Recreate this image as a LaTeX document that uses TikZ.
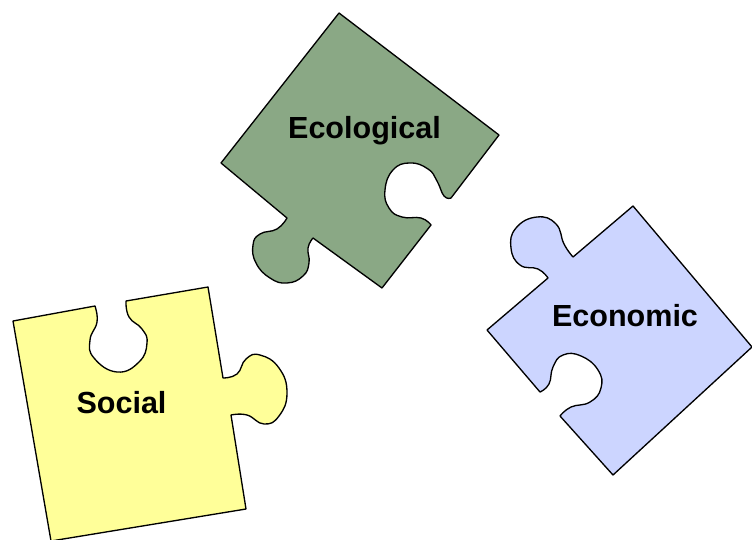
\documentclass[tikz,border=0pt]{standalone}
\usepackage{fontspec}
\setmainfont{Liberation Sans}
\definecolor{ecogreen}{HTML}{8AA885}
\definecolor{socyellow}{HTML}{FFFF99}
\definecolor{econblue}{HTML}{CCD5FF}
\tikzset{
	piece/.style={draw=black,line width=1pt,line join=round},
	word/.style={anchor=base,font=\fontsize{22.9}{27}\selectfont\bfseries,inner sep=0pt}
}
\begin{document}
\begin{tikzpicture}[x=.75pt,y=-.75pt]
	\useasboundingbox (0,0) rectangle (752,539);

	% ECOLOGICAL
	\draw[piece,fill=ecogreen] (339,13) -- (499,135) -- (451,198)
		-- plot [smooth,tension=.8] coordinates {(451,198) (444,196) (437,181) (428,169) (410,163) (393,170) (385,190) (389,208) (402,217) (421,218) (431,225)}
		-- (382,288) -- (313,238)
		-- plot [smooth,tension=.8] coordinates {(313,238) (308,248) (309,263) (303,276) (287,283) (270,278) (256,263) (253,245) (260,234) (277,229) (287,218)}
		-- (221,163) -- cycle;
	\node[word] (ecological) at (364.5,138) {Ecological};

	% SOCIAL
	\draw[piece,fill=socyellow] (13,321) -- (95,306)
		-- plot [smooth,tension=.8] coordinates {(95,306) (97,322) (90,340) (94,358) (117,372) (139,362) (147,343) (142,329) (129,317) (126,301)}
		-- (208,287) -- (223,378)
		-- plot [smooth,tension=.8] coordinates {(223,378) (237,374) (246,359) (260,355) (279,368) (287,393) (279,416) (264,424) (247,415) (231,415)}
		-- (246,509) -- (51,541) -- cycle;
	\node[word] (social) at (121.5,413) {Social};

	% ECONOMIC
	\draw[piece,fill=econblue] (633,206) -- (752,347) -- (613,475) -- (560,416)
		-- plot [smooth,tension=.8] coordinates {(560,416) (571,407) (590,402) (601,388) (598,370) (581,356) (563,355) (553,367) (549,384) (540,392)}
		-- (487,330) -- (548,278)
		-- plot [smooth,tension=.8] coordinates {(548,278) (538,269) (520,265) (511,248) (516,228) (537,217) (556,224) (564,244) (573,257)}
		-- cycle;
	\node[word] (economic) at (625,326) {Economic};
\end{tikzpicture}
\end{document}
